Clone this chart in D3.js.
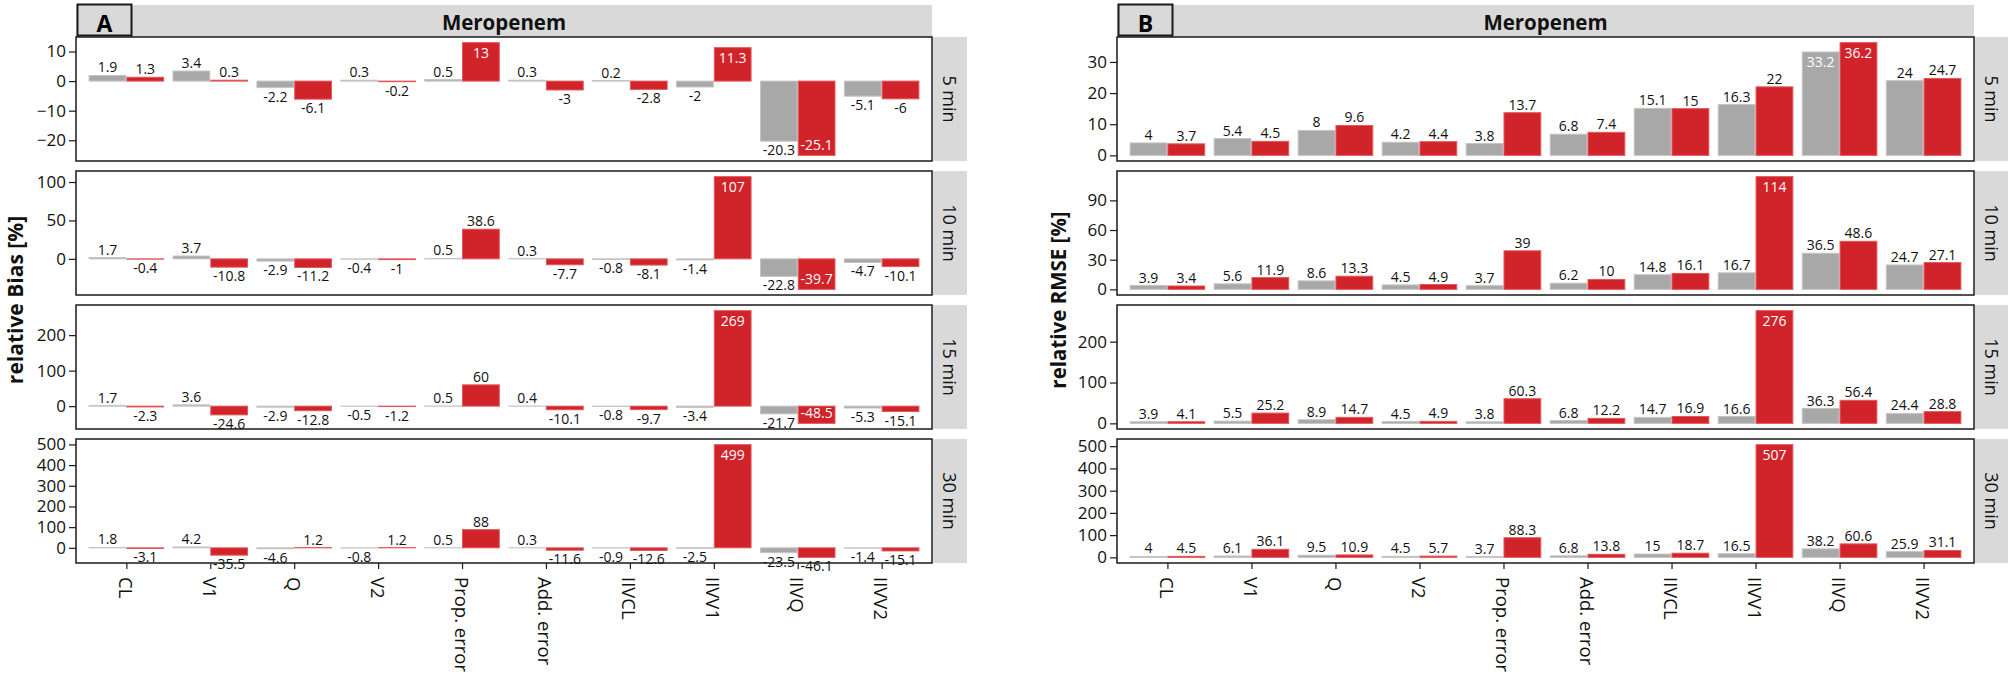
<!DOCTYPE html>
<html><head><meta charset="utf-8">
<script src="https://cdn.jsdelivr.net/npm/d3@7"></script>
<style>
body{margin:0;background:#fff}
svg{display:block}
text{font-family:"Open Sans",sans-serif}
</style>
</head><body>
<svg id="chart" width="2008" height="679"></svg>
<script>
// ---------------- DATA ----------------
const drug = "Meropenem";
const categories = ["CL","V1","Q","V2","Prop. error","Add. error","IIVCL","IIVV1","IIVQ","IIVV2"];
const times = ["5 min","10 min","15 min","30 min"];

// Panel A: relative Bias [%]  (grey series, red series)
const biasGray5  = [1.9, 3.4, -2.2, 0.3, 0.5, 0.3, 0.2, -2, -20.3, -5.1];
const biasRed5   = [1.3, 0.3, -6.1, -0.2, 13, -3, -2.8, 11.3, -25.1, -6];
const biasGray10 = [1.7, 3.7, -2.9, -0.4, 0.5, 0.3, -0.8, -1.4, -22.8, -4.7];
const biasRed10  = [-0.4, -10.8, -11.2, -1, 38.6, -7.7, -8.1, 107, -39.7, -10.1];
const biasGray15 = [1.7, 3.6, -2.9, -0.5, 0.5, 0.4, -0.8, -3.4, -21.7, -5.3];
const biasRed15  = [-2.3, -24.6, -12.8, -1.2, 60, -10.1, -9.7, 269, -48.5, -15.1];
const biasGray30 = [1.8, 4.2, -4.6, -0.8, 0.5, 0.3, -0.9, -2.5, -23.5, -1.4];
const biasRed30  = [-3.1, -35.5, 1.2, 1.2, 88, -11.6, -12.6, 499, -46.1, -15.1];
const biasTicks5 = [-20, -10, 0, 10];
const biasTicks10 = [0, 50, 100];
const biasTicks15 = [0, 100, 200];
const biasTicks30 = [0, 100, 200, 300, 400, 500];
// labels drawn inside their bar (time|category|series)
const biasInsideLabels = ["5 min|Prop. error|red","5 min|IIVV1|red","5 min|IIVQ|red",
  "10 min|IIVV1|red","10 min|IIVQ|red","15 min|IIVV1|red","15 min|IIVQ|red","30 min|IIVV1|red"];

// Panel B: relative RMSE [%]
const rmseGray5  = [4, 5.4, 8, 4.2, 3.8, 6.8, 15.1, 16.3, 33.2, 24];
const rmseRed5   = [3.7, 4.5, 9.6, 4.4, 13.7, 7.4, 15, 22, 36.2, 24.7];
const rmseGray10 = [3.9, 5.6, 8.6, 4.5, 3.7, 6.2, 14.8, 16.7, 36.5, 24.7];
const rmseRed10  = [3.4, 11.9, 13.3, 4.9, 39, 10, 16.1, 114, 48.6, 27.1];
const rmseGray15 = [3.9, 5.5, 8.9, 4.5, 3.8, 6.8, 14.7, 16.6, 36.3, 24.4];
const rmseRed15  = [4.1, 25.2, 14.7, 4.9, 60.3, 12.2, 16.9, 276, 56.4, 28.8];
const rmseGray30 = [4, 6.1, 9.5, 4.5, 3.7, 6.8, 15, 16.5, 38.2, 25.9];
const rmseRed30  = [4.5, 36.1, 10.9, 5.7, 88.3, 13.8, 18.7, 507, 60.6, 31.1];
const rmseTicks5 = [0, 10, 20, 30];
const rmseTicks10 = [0, 30, 60, 90];
const rmseTicks15 = [0, 100, 200];
const rmseTicks30 = [0, 100, 200, 300, 400, 500];
const rmseInsideLabels = ["5 min|IIVQ|gray","5 min|IIVQ|red","10 min|IIVV1|red",
  "15 min|IIVV1|red","30 min|IIVV1|red"];

// ---------------- LAYOUT / STYLE ----------------
const COL = {gray:"#a8a8a8", grayStroke:"#c4c4c4", red:"#d0232a", redStroke:"#e2585c",
             strip:"#d9d9d9", border:"#1a1a1a", text:"#111"};
const panelTop0 = 37, panelH = 124, panelGap = 10;

const sides = [
  {left:76, width:856, letter:"A", title:"relative Bias [%]", titleX:15,
   gray:[biasGray5,biasGray10,biasGray15,biasGray30], red:[biasRed5,biasRed10,biasRed15,biasRed30],
   ticks:[biasTicks5,biasTicks10,biasTicks15,biasTicks30], inside:biasInsideLabels, titleSize:21},
  {left:1117, width:857, letter:"B", title:"relative RMSE [%]", titleX:1058,
   gray:[rmseGray5,rmseGray10,rmseGray15,rmseGray30], red:[rmseRed5,rmseRed10,rmseRed15,rmseRed30],
   ticks:[rmseTicks5,rmseTicks10,rmseTicks15,rmseTicks30], inside:rmseInsideLabels, titleSize:20.5}
];

const svg = d3.select("#chart");

sides.forEach(side => {
  const g = svg.append("g");
  const x = d3.scalePoint().domain(categories).range([side.left, side.left + side.width]).padding(0.6);
  const bw = x.step() * 0.45;

  // header strip
  g.append("rect").attr("x", side.left).attr("y", 5).attr("width", side.width).attr("height", 32)
    .attr("fill", COL.strip);
  g.append("text").attr("x", side.left + side.width/2).attr("y", 29.5).attr("text-anchor","middle")
    .attr("font-size", 20.5).attr("font-weight", 700).attr("fill", COL.text).text(drug);
  g.append("rect").attr("x", side.left + 1.5).attr("y", 4.5).attr("width", 54).attr("height", 31)
    .attr("fill", COL.strip).attr("stroke", COL.border).attr("stroke-width", 2);
  g.append("text").attr("x", side.left + 28.5).attr("y", 31.5).attr("text-anchor","middle")
    .attr("font-size", 23).attr("font-weight", 700).attr("fill", "#000").text(side.letter);

  // y title
  g.append("text").attr("transform", `translate(${side.titleX},${panelTop0 + (4*panelH + 3*panelGap)/2}) rotate(-90)`)
    .attr("text-anchor","middle").attr("dominant-baseline","central")
    .attr("font-size", side.titleSize).attr("font-weight", 700).attr("fill", COL.text).text(side.title);

  times.forEach((t, i) => {
    const top = panelTop0 + i*(panelH + panelGap), bottom = top + panelH;
    const gv = side.gray[i], rv = side.red[i];
    const all = gv.concat(rv, [0]);
    const mn = d3.min(all), mx = d3.max(all), pad = (mx - mn) * 0.05;
    const y = d3.scaleLinear().domain([mn - pad, mx + pad]).range([bottom, top]);

    const pg = g.append("g");
    const rows = [];
    categories.forEach((c, j) => {
      rows.push({cat:c, s:"gray", v:gv[j], x0:x(c) - bw});
      rows.push({cat:c, s:"red", v:rv[j], x0:x(c)});
    });

    pg.selectAll("rect.bar").data(rows).join("rect").attr("class","bar")
      .attr("x", d => d.x0 + 0.5).attr("width", bw - 1)
      .attr("y", d => Math.min(y(d.v), y(0)))
      .attr("height", d => Math.max(0.01, Math.abs(y(d.v) - y(0))))
      .attr("fill", d => d.s === "gray" ? COL.gray : COL.red)
      .attr("stroke", d => d.s === "gray" ? COL.grayStroke : COL.redStroke)
      .attr("stroke-width", 1);

    pg.selectAll("text.lab").data(rows).join("text").attr("class","lab")
      .attr("x", d => d.x0 + bw/2)
      .attr("y", d => {
        const inside = side.inside.includes(`${t}|${d.cat}|${d.s}`);
        const yv = y(d.v);
        if (inside) return d.v >= 0 ? yv + 15 : yv - 5;
        return d.v >= 0 ? yv - 3 : yv + 14;
      })
      .attr("text-anchor","middle").attr("font-size", 14)
      .attr("fill", d => side.inside.includes(`${t}|${d.cat}|${d.s}`) ? "#fff" : COL.text)
      .text(d => String(d.v));

    // border
    pg.append("rect").attr("x", side.left).attr("y", top).attr("width", side.width).attr("height", panelH)
      .attr("fill","none").attr("stroke", COL.border).attr("stroke-width", 1.5);

    // y axis
    const ax = pg.append("g").attr("transform", `translate(${side.left},0)`)
      .call(d3.axisLeft(y).tickValues(side.ticks[i]).tickSize(7).tickPadding(3).tickFormat(d3.format("d")));
    ax.select(".domain").remove();
    ax.selectAll(".tick line").attr("stroke", COL.border).attr("stroke-width", 1.2);
    ax.selectAll(".tick text").attr("font-size", 17).attr("fill", COL.text)
      .attr("font-family", '"Open Sans",sans-serif');

    // facet strip
    const sx = side.left + side.width + 1;
    pg.append("rect").attr("x", sx).attr("y", top).attr("width", 34).attr("height", panelH)
      .attr("fill", COL.strip);
    pg.append("text").attr("transform", `translate(${sx + 17},${top + panelH/2}) rotate(90)`)
      .attr("text-anchor","middle").attr("dominant-baseline","central")
      .attr("font-size", 18).attr("fill", COL.text).text(t);

    // x axis on bottom panel
    if (i === times.length - 1) {
      const xa = pg.append("g").attr("transform", `translate(0,${bottom})`)
        .call(d3.axisBottom(x).tickSize(6).tickFormat(""));
      xa.select(".domain").remove();
      xa.selectAll(".tick line").attr("stroke", COL.border).attr("stroke-width", 1.2);
      pg.selectAll("text.xl").data(categories).join("text").attr("class","xl")
        .attr("transform", c => `translate(${x(c)},${bottom + 14}) rotate(90)`)
        .attr("text-anchor","start").attr("dominant-baseline","central")
        .attr("font-size", 18.5).attr("fill", COL.text).text(c => c);
    }
  });
});
</script>
</body></html>
